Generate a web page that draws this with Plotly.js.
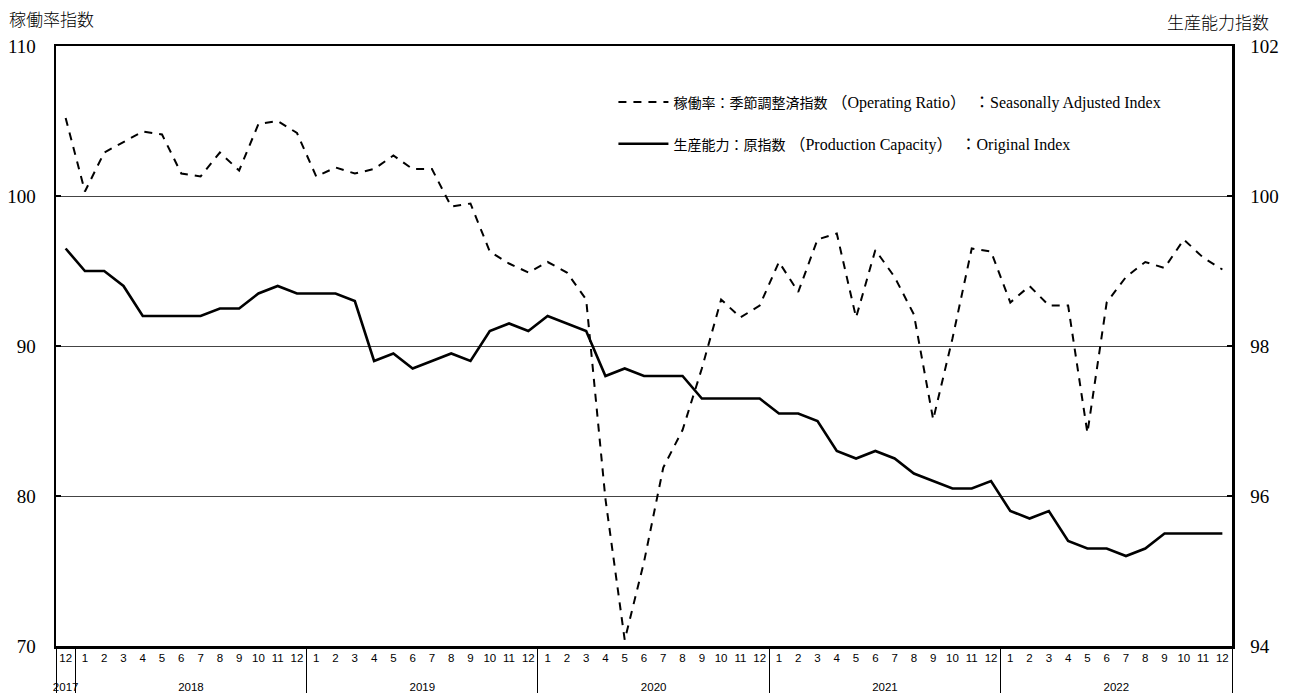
<!DOCTYPE html>
<html>
<head>
<meta charset="utf-8">
<script src="https://cdn.plot.ly/plotly-3.0.1.min.js"></script>
<style>html,body{margin:0;padding:0;background:#fff;}#chart{width:1290px;height:693px;}</style>
</head>
<body>
<div id="chart"></div>
<script>
// Year groups and number of months shown in each
const yearLabels = ['2017', '2018', '2019', '2020', '2021', '2022'];
const monthsPerYear = [1, 12, 12, 12, 12, 12];
const monthLabels = [
  '12',
  '1','2','3','4','5','6','7','8','9','10','11','12',
  '1','2','3','4','5','6','7','8','9','10','11','12',
  '1','2','3','4','5','6','7','8','9','10','11','12',
  '1','2','3','4','5','6','7','8','9','10','11','12',
  '1','2','3','4','5','6','7','8','9','10','11','12'
];

// 稼働率：季節調整済指数 (left axis)
const operatingRatio = [
  105.2,
  100.3, 102.9, 103.6, 104.3, 104.1, 101.5, 101.3, 102.9, 101.7, 104.8, 105.0, 104.2,
  101.3, 101.9, 101.5, 101.8, 102.7, 101.8, 101.8, 99.3, 99.5, 96.3, 95.5, 94.9,
  95.6, 94.9, 93.1, 79.8, 70.4, 75.6, 81.9, 84.4, 88.5, 93.1, 91.9, 92.7,
  95.6, 93.6, 97.1, 97.5, 91.9, 96.4, 94.6, 92.1, 85.1, 90.5, 96.5, 96.3,
  92.9, 94.0, 92.7, 92.7, 84.2, 92.9, 94.6, 95.6, 95.2, 97.1, 95.9, 95.1
];

// 生産能力：原指数 (right axis)
const productionCapacity = [
  99.3,
  99.0, 99.0, 98.8, 98.4, 98.4, 98.4, 98.4, 98.5, 98.5, 98.7, 98.8, 98.7,
  98.7, 98.7, 98.6, 97.8, 97.9, 97.7, 97.8, 97.9, 97.8, 98.2, 98.3, 98.2,
  98.4, 98.3, 98.2, 97.6, 97.7, 97.6, 97.6, 97.6, 97.3, 97.3, 97.3, 97.3,
  97.1, 97.1, 97.0, 96.6, 96.5, 96.6, 96.5, 96.3, 96.2, 96.1, 96.1, 96.2,
  95.8, 95.7, 95.8, 95.4, 95.3, 95.3, 95.2, 95.3, 95.5, 95.5, 95.5, 95.5
];

const leftTicks = [70, 80, 90, 100, 110];
const rightTicks = [94, 96, 98, 100, 102];

const seriesNames = [
  '<span style="font-size:14px">稼働率：季節調整済指数</span> （Operating Ratio）　：Seasonally Adjusted Index',
  '<span style="font-size:14px">生産能力：原指数</span> （Production Capacity）　：Original Index'
];

// Build multicategory x from year groups and month labels.
// The single 2017 month gets an invisible zero-width mark so that the
// month order inside every later year stays 1..12; a blank second line
// pushes the year row down.
const yearOfPoint = [];
const monthOfPoint = [];
let p = 0;
yearLabels.forEach((y, i) => {
  for (let k = 0; k < monthsPerYear[i]; k++) {
    yearOfPoint.push(y);
    monthOfPoint.push((i === 0 ? monthLabels[p] + '\u200b' : monthLabels[p]) + '<br> ');
    p++;
  }
});
const xCats = [yearOfPoint, monthOfPoint];
const nCats = monthLabels.length;

const serif = 'Liberation Serif, "Times New Roman", "Noto Sans CJK JP", serif';
const cjk = '"Noto Sans CJK JP", sans-serif';
const sans = '"Liberation Sans Narrow", "Arial Narrow", "Liberation Sans", Arial, sans-serif';

const traces = [
  {
    x: xCats, y: operatingRatio, name: seriesNames[0], type: 'scatter', mode: 'lines',
    line: {color: '#000', width: 2, dash: '8px,7px'}, yaxis: 'y', legendgroup: 'a'
  },
  {
    x: xCats, y: productionCapacity, name: seriesNames[1], type: 'scatter', mode: 'lines',
    line: {color: '#000', width: 2.6}, yaxis: 'y2', legendgroup: 'b'
  }
];

const layout = {
  width: 1290, height: 693,
  margin: {l: 56, r: 58, t: 46, b: 47},
  paper_bgcolor: '#fff', plot_bgcolor: '#fff',
  showlegend: true,
  legend: {
    x: 0.474, y: 0.935, xanchor: 'left', yanchor: 'top',
    bgcolor: 'rgba(0,0,0,0)', borderwidth: 0,
    font: {family: serif, size: 16, color: '#000'},
    tracegroupgap: 18, itemwidth: 50
  },
  xaxis: {
    type: 'multicategory',
    range: [-0.5, nCats - 0.5],
    showline: true, linecolor: '#000', linewidth: 2.5, mirror: true,
    showgrid: false, zeroline: false,
    ticks: '', showdividers: true, dividercolor: '#000', dividerwidth: 1,
    tickangle: 0,
    tickfont: {family: sans, size: 11.5, color: '#000'}
  },
  yaxis: {
    range: [70, 110], tickvals: leftTicks, ticktext: leftTicks.map(String),
    showline: true, linecolor: '#000', linewidth: 2.5, mirror: true,
    showgrid: true, gridcolor: '#444', gridwidth: 1, zeroline: false,
    ticks: 'inside', ticklen: 5, tickcolor: '#000', tickwidth: 1.5,
    ticklabelstandoff: 14,
    tickfont: {family: serif, size: 19, color: '#000'}
  },
  yaxis2: {
    range: [94, 102], tickvals: rightTicks, ticktext: rightTicks.map(String),
    overlaying: 'y', side: 'right',
    showline: true, linecolor: '#000', linewidth: 2.5,
    showgrid: false, zeroline: false,
    ticks: 'inside', ticklen: 5, tickcolor: '#000', tickwidth: 1.5,
    ticklabelstandoff: 12,
    tickfont: {family: serif, size: 19, color: '#000'}
  },
  annotations: [
    {text: '稼働率指数', xref: 'paper', yref: 'paper', x: -0.042, y: 1.0, yshift: 28,
     xanchor: 'left', yanchor: 'middle', showarrow: false,
     font: {family: cjk, size: 17, weight: 300, color: '#000'}},
    {text: '生産能力指数', xref: 'paper', yref: 'paper', x: 1.033, y: 1.0, yshift: 25,
     xanchor: 'right', yanchor: 'middle', showarrow: false,
     font: {family: cjk, size: 17, weight: 300, color: '#000'}}
  ]
};

Plotly.newPlot('chart', traces, layout, {displayModeBar: false, staticPlot: true});
</script>
</body>
</html>
